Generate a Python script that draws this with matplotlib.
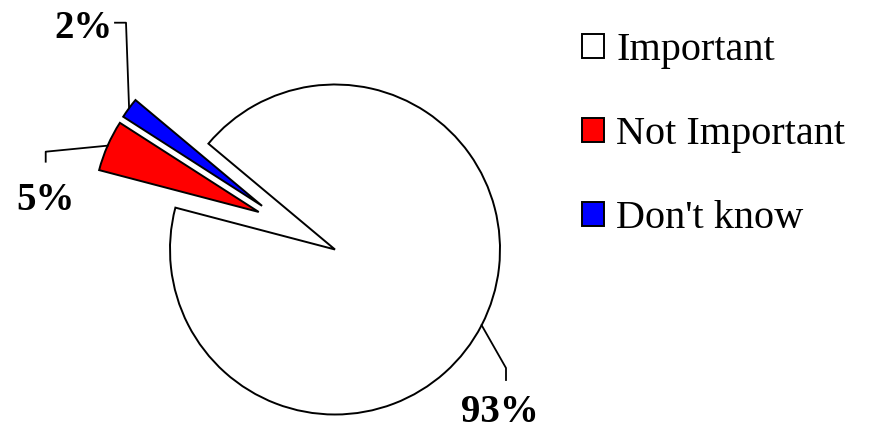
import math

import matplotlib
matplotlib.use("Agg")
import matplotlib.pyplot as plt
from matplotlib.patches import Patch

# ---------------------------------------------------------------- data
categories = ["Important", "Not Important", "Don't know"]
shares = [93, 5, 2]
pct_labels = ["93%", "5%", "2%"]
colors = ["white", "#ff0000", "#0000ff"]

W, H = 870, 430
CX, CY, R = 335, H - 249.5, 165          # pie centre / radius in pixels (y up)
START = 140.1
EXPLODE = [0, 85, 85]
SHIFT_DIR = [None, 153.8, 149.1]         # direction the slices were pulled out

fig = plt.figure(figsize=(W / 100, H / 100), dpi=100)
ax = fig.add_axes([0, 0, 1, 1])
wedges, _ = ax.pie(shares, colors=colors, startangle=START, counterclock=False,
                   center=(CX, CY), radius=R, explode=EXPLODE,
                   wedgeprops=dict(edgecolor="black", linewidth=1.4))
for w, d, e in zip(wedges, SHIFT_DIR, EXPLODE):
    if d is not None:
        w.set_center((CX + e * math.cos(math.radians(d)),
                      CY + e * math.sin(math.radians(d))))
ax.set_xlim(0, W)
ax.set_ylim(0, H)
ax.set_aspect("equal")
ax.axis("off")


def anchor(w):
    mid = math.radians((w.theta1 + w.theta2) / 2)
    cx, cy = w.center
    return cx + w.r * math.cos(mid), cy + w.r * math.sin(mid)


# leader lines: elbow points and label baselines (pixels, y up)
elbows = {"93%": [(506, H - 368), (506, H - 380)],
          "5%": [(45.7, H - 151.7), (45.7, H - 161.7)],
          "2%": [(126, H - 22.7), (115, H - 22.7)]}
label_pos = {"93%": (500, H - 422), "5%": (46, H - 210), "2%": (84, H - 38)}

font_lbl = dict(family="Liberation Serif", weight="bold", size=28)
for w, lab in zip(wedges, pct_labels):
    ax0, ay0 = anchor(w)
    pts = [(ax0, ay0)] + elbows[lab]
    ax.plot([p[0] for p in pts], [p[1] for p in pts], color="black", lw=1.3)
    x, y = label_pos[lab]
    ax.text(x, y, lab, ha="center", va="baseline", **font_lbl)

handles = [Patch(facecolor=c, edgecolor="black", linewidth=1.4) for c in colors]
fig.legend(handles, categories, loc="upper left", bbox_to_anchor=(562 / W, 1 - 12 / H),
           frameon=False, prop=dict(family="Liberation Serif", size=29),
           handlelength=0.55, handleheight=0.55, handletextpad=0.3,
           labelspacing=1.17, borderpad=0)

fig.savefig("out.png", dpi=100)
